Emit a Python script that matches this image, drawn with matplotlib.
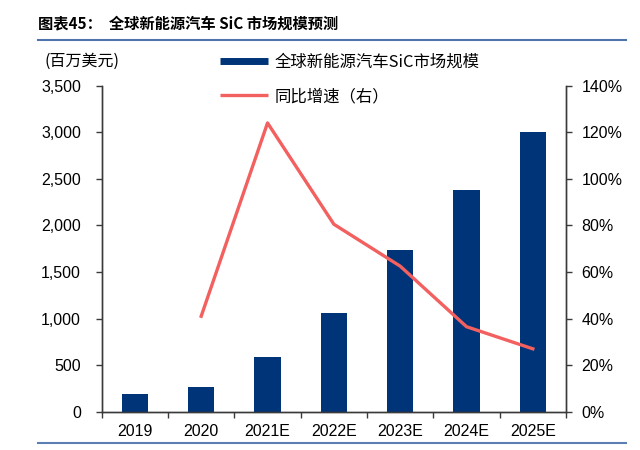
import matplotlib
matplotlib.use("Agg")
import matplotlib.pyplot as plt
from matplotlib.lines import Line2D
from matplotlib.ticker import FuncFormatter, MultipleLocator
import numpy as np

plt.rcParams['font.family'] = ['Liberation Sans', 'Noto Sans CJK SC', 'DejaVu Sans']

years = ['2019', '2020', '2021E', '2022E', '2023E', '2024E', '2025E']
market_size = [185, 265, 590, 1065, 1740, 2375, 3005]      # 百万美元
yoy_growth = [np.nan, 41, 124, 80.5, 62.5, 36.5, 27]       # %

navy = '#003478'
salmon = '#f2605f'
spine_col = '#3a3a3a'

fig = plt.figure(figsize=(6.4, 4.5), dpi=100)
ax = fig.add_axes([0.1589, 0.0851, 0.7255, 0.7245])
ax2 = ax.twinx()

x = np.arange(len(years))
ax.bar(x, market_size, width=0.4, color=navy, zorder=2)
ax2.plot(x, yoy_growth, color=salmon, lw=2.4, zorder=3)

ax.set_xlim(-0.5, len(years) - 0.5)
ax.set_ylim(0, 3500)
ax2.set_ylim(0, 140)
ax.yaxis.set_major_locator(MultipleLocator(500))
ax2.yaxis.set_major_locator(MultipleLocator(20))
ax.yaxis.set_major_formatter(FuncFormatter(lambda v, p: f'{int(v):,}'))
ax2.yaxis.set_major_formatter(FuncFormatter(lambda v, p: f'{int(v)}%'))

ax.set_xticks(x)
ax.set_xticklabels(years)
ax.set_xticks(np.arange(-0.5, len(years)), minor=True)
ax.tick_params(axis='x', which='major', length=0, pad=9, labelsize=11.5)
ax.tick_params(axis='x', which='minor', length=4, width=1, color=spine_col, direction='out')
ax.tick_params(axis='y', length=4, width=1, color=spine_col, pad=11, labelsize=11.5)
ax2.tick_params(axis='y', length=4, width=1, color=spine_col, pad=7, labelsize=11.5)

for a in (ax, ax2):
    a.spines['top'].set_visible(False)
    for s in ('left', 'right', 'bottom'):
        a.spines[s].set_color(spine_col)
        a.spines[s].set_linewidth(1)

handles = [Line2D([], [], color=navy, lw=5, solid_capstyle='butt'),
           Line2D([], [], color=salmon, lw=2.4, solid_capstyle='butt')]
labels = ['全球新能源汽车SiC市场规模', '同比增速（右）']
fig.legend(handles, labels, loc='upper left', bbox_to_anchor=(0.344, 1 - 54 / 450),
           frameon=False, borderpad=0, borderaxespad=0, handlelength=2.9,
           handletextpad=0.4, labelspacing=1.05,
           prop={'family': ['Noto Sans CJK SC', 'DejaVu Sans'], 'size': 11.8})

fig.text(45 / 640, 1 - 61 / 450, '(百万美元)', fontsize=11.5, va='center', ha='left',
         family=['Noto Sans CJK SC', 'DejaVu Sans'])

fig.text(38 / 640, 1 - 23 / 450, '图表45：  全球新能源汽车 SiC 市场规模预测',
         fontsize=11, fontweight='bold', va='center', ha='left',
         family=['Noto Sans CJK SC', 'DejaVu Sans'])
fig.add_artist(Line2D([38 / 640, 626 / 640], [1 - 40 / 450, 1 - 40 / 450],
                      color='#4f74ac', lw=1.5, transform=fig.transFigure))
fig.add_artist(Line2D([38 / 640, 626 / 640], [1 - 443 / 450, 1 - 443 / 450],
                      color='#5b7fb5', lw=1.5, transform=fig.transFigure))

fig.savefig('out.png', dpi=100)
